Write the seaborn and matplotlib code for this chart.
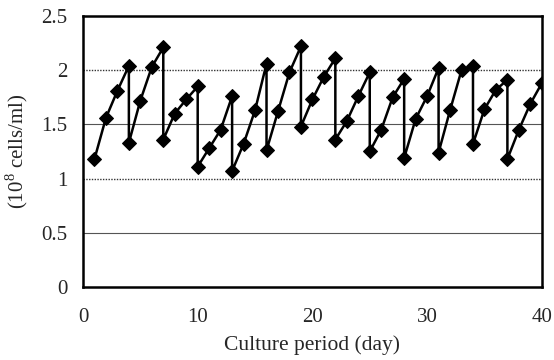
import matplotlib
matplotlib.use("Agg")
import matplotlib.pyplot as plt
import seaborn as sns
import numpy as np

days = [1, 2, 3, 4, 4, 5, 6, 7, 7, 8, 9, 10, 10, 11, 12, 13, 13, 14, 15, 16, 16,
        17, 18, 19, 19, 20, 21, 22, 22, 23, 24, 25, 25, 26, 27, 28, 28, 29, 30,
        31, 31, 32, 33, 34, 34, 35, 36, 37, 37, 38, 39, 40]
cells = [1.18, 1.56, 1.81, 2.04, 1.33, 1.72, 2.03, 2.21, 1.36, 1.60, 1.73, 1.85, 1.11,
         1.28, 1.45, 1.76, 1.07, 1.32, 1.63, 2.06, 1.26, 1.62, 1.98, 2.22, 1.48,
         1.73, 1.94, 2.11, 1.36, 1.53, 1.76, 1.98, 1.25, 1.45, 1.75, 1.92, 1.19,
         1.55, 1.76, 2.02, 1.24, 1.63, 2.00, 2.04, 1.32, 1.64, 1.82, 1.91, 1.18,
         1.45, 1.69, 1.88]
xticks = [0, 10, 20, 30, 40]
yticks = [0, 0.5, 1, 1.5, 2, 2.5]
ytick_labels = ["0", "0.5", "1", "1.5", "2", "2.5"]

sns.set_style("white")
plt.rcParams['font.family'] = ['Liberation Serif', 'DejaVu Serif']
plt.rcParams['mathtext.fontset'] = 'custom'
plt.rcParams['mathtext.rm'] = 'Liberation Serif'

fig = plt.figure(figsize=(5.54, 3.6), dpi=100)
ax = fig.add_axes([0.1498, 0.2028, 0.8282, 0.7528])

# gridlines
for yv in [0.5, 1.5]:
    ax.axhline(yv, color='#555555', lw=0.8, zorder=1)
for yv in [1.0, 2.0]:
    ax.axhline(yv, color='#333333', lw=1.0, ls=(0, (1, 1)), zorder=1)

sns.lineplot(x=days, y=cells, sort=False, estimator=None, ax=ax,
             color='black', lw=1.8, marker='D', markersize=7,
             markeredgecolor='black', markerfacecolor='black', zorder=3)

ax.set_xlim(0, 40)
ax.set_ylim(0, 2.5)
ax.set_xticks(xticks)
ax.set_yticks(yticks)
ax.set_yticklabels(ytick_labels)
ax.tick_params(axis='x', direction='in', length=5, width=0.8, color='#888888',
               labelsize=15, pad=15)
ax.tick_params(axis='y', length=0, labelsize=15, pad=11)
for s in ax.spines.values():
    s.set_visible(True)
    s.set_color('black')
    s.set_linewidth(1.8)

ax.set_xlabel("Culture period (day)", fontsize=15.5, labelpad=6)
ax.set_ylabel(r"(10$^{8}$ cells/ml)", fontsize=15, labelpad=8)

fig.savefig("out.png", dpi=100)
